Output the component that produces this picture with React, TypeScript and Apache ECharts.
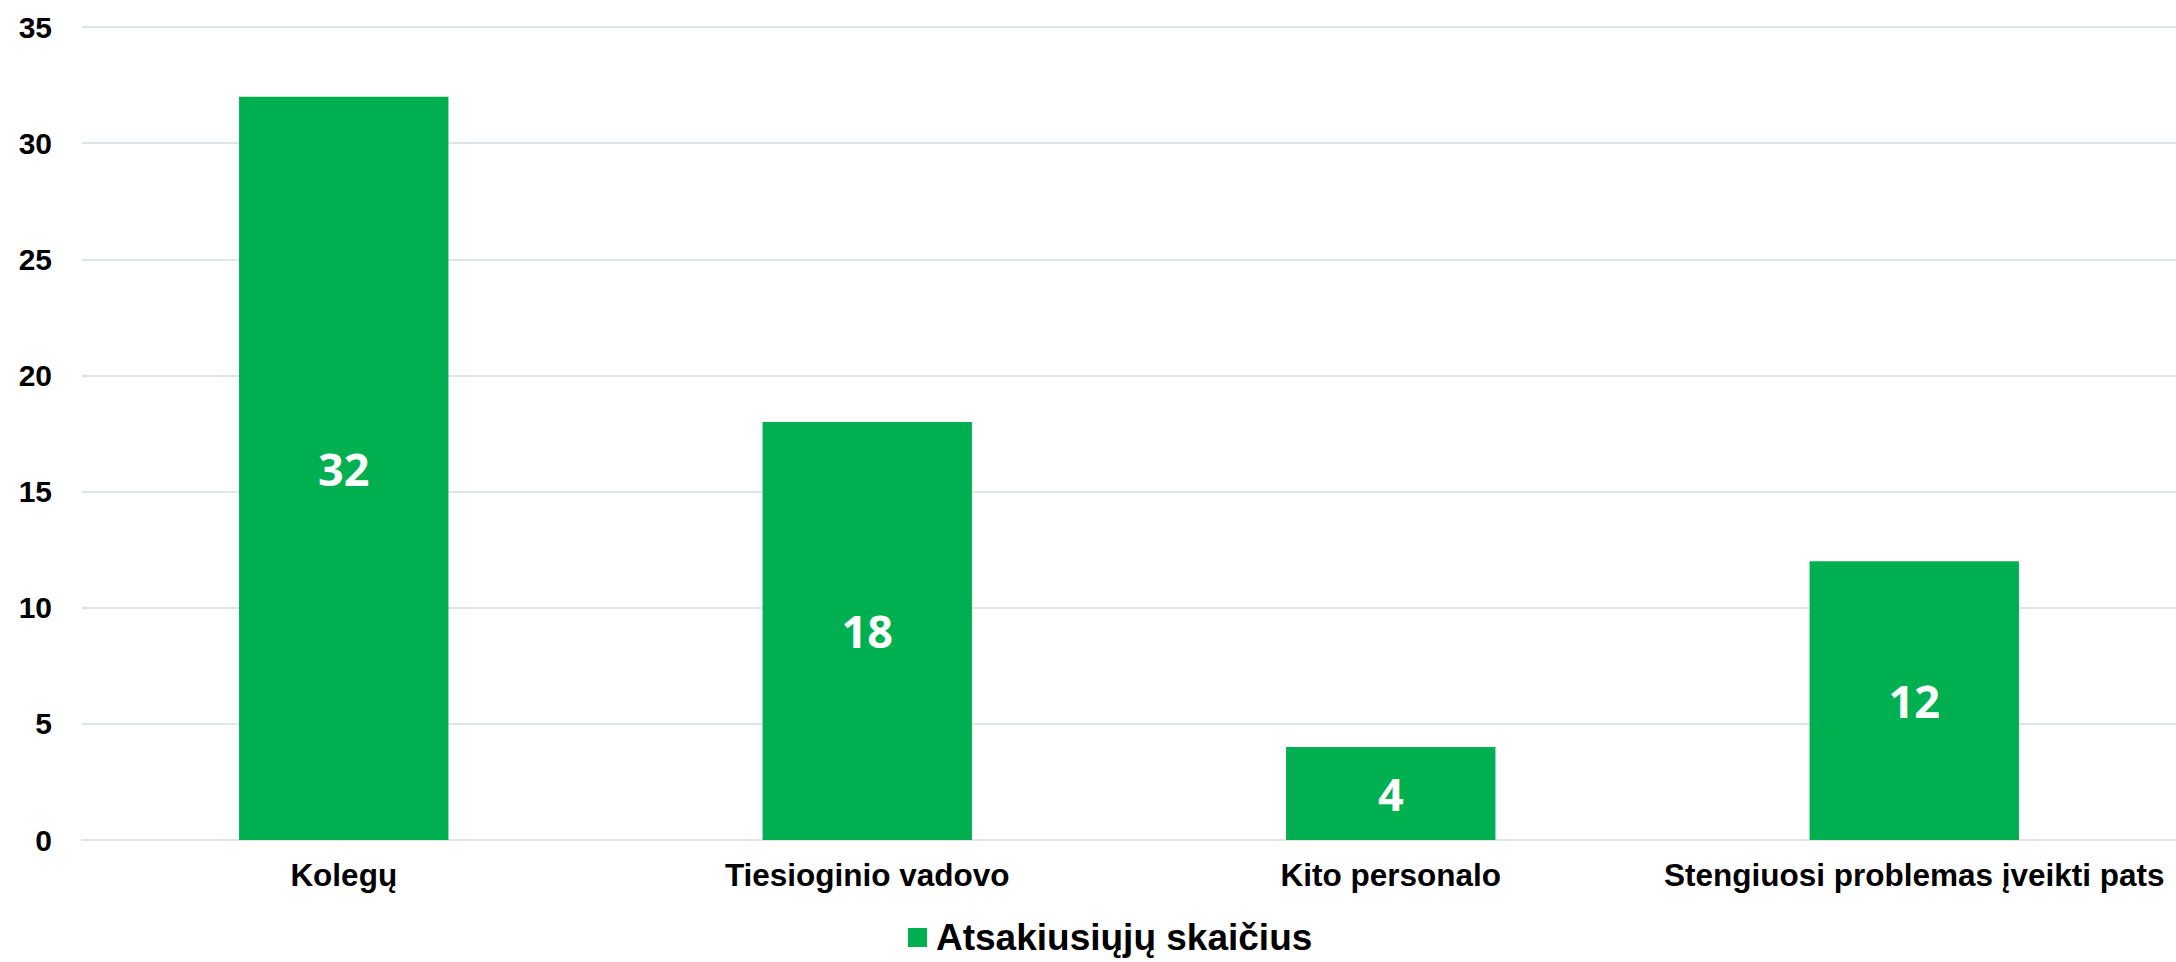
import React, { useEffect, useRef } from "react";
import * as echarts from "echarts";

const categories = ["Kolegų", "Tiesioginio vadovo", "Kito personalo", "Stengiuosi problemas įveikti pats"];
const seriesName = "Atsakiusiųjų skaičius";
const values = [32, 18, 4, 12];
const yMin = 0;
const yMax = 35;
const yStep = 5;

export default function App() {
  const ref = useRef<HTMLDivElement>(null);
  useEffect(() => {
    if (!ref.current) return;
    const chart = echarts.init(ref.current, undefined, { renderer: "svg" });
    const axisFont = "'Liberation Sans', Arial, sans-serif";
    chart.setOption({
      animation: false,
      backgroundColor: "#ffffff",
      grid: { left: 82, right: -4, top: 27, bottom: 122, containLabel: false },
      legend: {
        data: [seriesName],
        left: 908,
        top: 919,
        padding: 0,
        icon: "rect",
        itemWidth: 19,
        itemHeight: 19,
        itemGap: 10,
        textStyle: { fontFamily: axisFont, fontWeight: "bold", fontSize: 37, color: "#000000", padding: [0, 0, 0, 4] },
      },
      xAxis: {
        type: "category",
        data: categories,
        axisLine: { show: true, lineStyle: { color: "#dfe3ea", width: 2 } },
        axisTick: { show: false },
        axisLabel: {
          interval: 0,
          margin: 19,
          fontFamily: axisFont,
          fontWeight: "bold",
          fontSize: 31.5,
          color: "#000000",
        },
      },
      yAxis: {
        type: "value",
        min: yMin,
        max: yMax,
        interval: yStep,
        axisLine: { show: false },
        axisTick: { show: false },
        splitLine: { show: true, lineStyle: { color: "#dfe3ea", width: 2 } },
        axisLabel: {
          margin: 30,
          fontFamily: axisFont,
          fontWeight: "bold",
          fontSize: 30,
          color: "#000000",
        },
      },
      series: [
        {
          name: seriesName,
          type: "bar",
          data: values,
          barWidth: "40%",
          itemStyle: { color: "#00B050" },
          label: {
            show: true,
            position: "inside",
            color: "#ffffff",
            fontFamily: "'Open Sans', sans-serif",
            fontWeight: "bold",
            fontSize: 45,
          },
        },
      ],
    });
    return () => chart.dispose();
  }, []);
  return (
    <div
      ref={ref}
      style={{ position: "absolute", left: 0, top: 0, width: 2176, height: 962 }}
    />
  );
}
